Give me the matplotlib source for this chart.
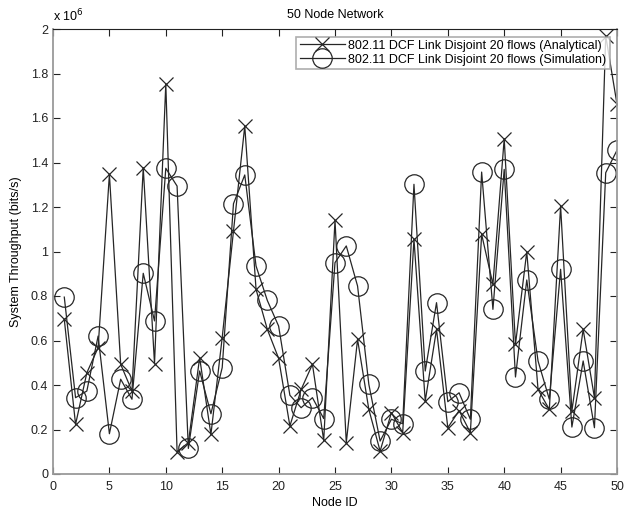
import matplotlib
matplotlib.use("Agg")
import matplotlib.pyplot as plt
from matplotlib.ticker import FuncFormatter, MultipleLocator

plt.rcParams['font.family'] = ['Liberation Sans', 'DejaVu Sans']

node_ids = list(range(1, 51))

# System throughput in units of 1e6 bits/s
analytical = [0.695, 0.223, 0.455, 0.568, 1.347, 0.493, 0.373, 1.377, 0.496, 1.754,
              0.100, 0.141, 0.523, 0.178, 0.613, 1.092, 1.564, 0.830, 0.650, 0.520,
              0.216, 0.380, 0.493, 0.151, 1.140, 0.141, 0.605, 0.290, 0.103, 0.276,
              0.186, 1.055, 0.328, 0.650, 0.208, 0.285, 0.186, 1.077, 0.853, 1.507,
              0.583, 0.999, 0.380, 0.290, 1.204, 0.283, 0.650, 0.343, 1.970, 1.662]

simulation = [0.795, 0.343, 0.373, 0.620, 0.181, 0.426, 0.336, 0.902, 0.688, 1.374,
              1.294, 0.115, 0.463, 0.271, 0.478, 1.215, 1.344, 0.935, 0.780, 0.665,
              0.354, 0.298, 0.343, 0.249, 0.950, 1.025, 0.845, 0.403, 0.148, 0.246,
              0.226, 1.302, 0.463, 0.770, 0.325, 0.365, 0.246, 1.357, 0.740, 1.369,
              0.436, 0.872, 0.508, 0.336, 0.920, 0.211, 0.508, 0.208, 1.354, 1.455]

labels = ["802.11 DCF Link Disjoint 20 flows (Analytical)",
          "802.11 DCF Link Disjoint 20 flows (Simulation)"]
scale = 1e6

fig = plt.figure(figsize=(6.34, 5.09), dpi=100)
ax = fig.add_axes([53 / 634, 1 - 474 / 509, 564 / 634, 445 / 509])

line_color = '#262626'
ax.plot(node_ids, [v * scale for v in analytical], color=line_color, lw=0.9,
        marker='x', ms=10, mew=0.9, mfc='none', label=labels[0])
ax.plot(node_ids, [v * scale for v in simulation], color=line_color, lw=0.9,
        marker='o', ms=14, mew=0.9, mfc='none', label=labels[1])

ax.set_xlim(0, 50)
ax.set_ylim(0, 2 * scale)
ax.xaxis.set_major_locator(MultipleLocator(5))
ax.yaxis.set_major_locator(MultipleLocator(0.2 * scale))
ax.yaxis.set_major_formatter(FuncFormatter(lambda v, p: f"{v / scale:g}"))

ax.tick_params(direction='in', length=5, width=0.8, labelsize=9,
               top=True, right=True, colors='#222222')
ax.tick_params(axis='x', pad=5)
for side in ['left', 'bottom', 'right']:
    ax.spines[side].set_color('#9a9a9a')
    ax.spines[side].set_linewidth(1.3)
ax.spines['top'].set_color('#222222')
ax.spines['top'].set_linewidth(0.8)

ax.set_title("50 Node Network", fontsize=9, pad=8)
ax.set_xlabel("Node ID", fontsize=9, labelpad=3)
ax.set_ylabel("System Throughput (bits/s)", fontsize=9, labelpad=6)
ax.text(0.0, 1.01, r"x 10$^{6}$", transform=ax.transAxes, fontsize=9,
        ha='left', va='bottom')

leg = ax.legend(loc='upper right', fontsize=9, frameon=True, fancybox=False,
                borderaxespad=0.6, handlelength=3.6, handletextpad=0.3,
                borderpad=0.25, labelspacing=0.15)
leg.get_frame().set_edgecolor('#9a9a9a')
leg.get_frame().set_linewidth(1.2)

fig.savefig("out.png", dpi=100)
